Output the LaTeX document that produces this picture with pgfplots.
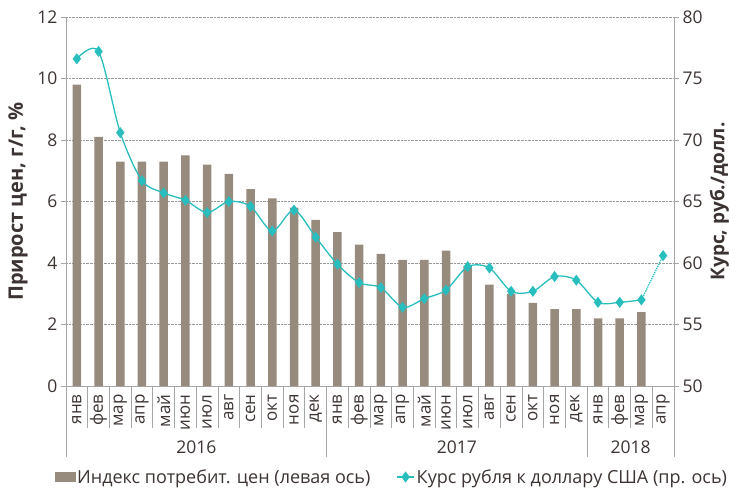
\documentclass[border=0pt]{standalone}
\usepackage{pgfplots}
\pgfplotsset{compat=1.18}
\usepackage{fontspec}
\setmainfont{Open Sans}
\definecolor{barc}{RGB}{151,139,126}
\definecolor{linec}{RGB}{40,190,190}
\definecolor{txt}{RGB}{60,52,50}
\definecolor{axc}{RGB}{166,166,166}
\begin{document}
\begin{tikzpicture}[font=\fontsize{17bp}{20bp}\selectfont, text=txt]
\pgfplotsset{
  common/.style={
    scale only axis, width=608bp, height=369bp,
    xmin=-0.5, xmax=27.5,
    /pgf/number format/assume math mode=true,
    tick align=outside, major tick length=5bp,
    axis line style={-, axc, line width=0.8pt},
    tick style={axc, line width=0.8pt},
    ticklabel style={font=\fontsize{17.5bp}{20bp}\selectfont, text=txt},
    label style={font=\bfseries\fontsize{20bp}{23bp}\selectfont, text=txt, inner sep=0pt},
    clip=false,
  }
}
\begin{axis}[common,
  ymin=0, ymax=12, ytick={0,2,...,12},
  axis y line*=left, axis x line*=bottom,
  ymajorgrids, grid style={densely dotted, gray!80, line width=0.7pt},
  xtick={0,...,27},
  xticklabels={янв,фев,мар,апр,май,июн,июл,авг,сен,окт,ноя,дек,янв,фев,мар,апр,май,июн,июл,авг,сен,окт,ноя,дек,янв,фев,мар,апр},
  xticklabel style={rotate=90, anchor=east, font=\fontsize{17bp}{20bp}\selectfont},
  x tick style={draw=none},
  ylabel={Прирост цен, г/г, \%},
  ylabel style={at={(axis description cs:-0.079,0.5)}, anchor=center},
]
\addplot[ybar, bar width=8.5bp, fill=barc, draw=none] coordinates {
(0,9.8)(1,8.1)(2,7.3)(3,7.3)(4,7.3)(5,7.5)(6,7.2)(7,6.9)(8,6.4)(9,6.1)(10,5.8)(11,5.4)
(12,5.0)(13,4.6)(14,4.3)(15,4.1)(16,4.1)(17,4.4)(18,3.9)(19,3.3)(20,3.0)(21,2.7)(22,2.5)(23,2.5)
(24,2.2)(25,2.2)(26,2.4)};
\pgfplotsinvokeforeach{-0.5,0.5,1.5,2.5,3.5,4.5,5.5,6.5,7.5,8.5,9.5,10.5,12.5,13.5,14.5,15.5,16.5,17.5,18.5,19.5,20.5,21.5,22.5,24.5,25.5,26.5}{
  \draw[axc, line width=0.8pt] (axis cs:#1,0) -- ([yshift=-42bp]axis cs:#1,0);}
\pgfplotsinvokeforeach{-0.5,11.5,23.5,27.5}{
  \draw[axc, line width=0.8pt] (axis cs:#1,0) -- ([yshift=-71bp]axis cs:#1,0);}
\node[anchor=center, font=\fontsize{17.5bp}{20bp}\selectfont] at ([yshift=-61bp]axis cs:5.5,0) {2016};
\node[anchor=center, font=\fontsize{17.5bp}{20bp}\selectfont] at ([yshift=-61bp]axis cs:17.5,0) {2017};
\node[anchor=center, font=\fontsize{17.5bp}{20bp}\selectfont] at ([yshift=-61bp]axis cs:25.5,0) {2018};
\end{axis}
\begin{axis}[common,
  ymin=50, ymax=80, ytick={50,55,...,80},
  axis y line*=right, axis x line=none,
  ylabel={Курс, руб./долл.},
  ylabel style={at={(axis description cs:1.0745,0.5)}, anchor=center, rotate=0, font=\bfseries\fontsize{19bp}{22bp}\selectfont},
  legend columns=2,
  legend style={at={(axis description cs:0.536,0)}, anchor=center, yshift=-91bp,
    draw=none, fill=none, font=\fontsize{18bp}{21bp}\selectfont, text=txt,
    /tikz/every even column/.append style={column sep=24bp},
    inner sep=0pt, legend cell align=left},
]
\addlegendimage{legend image code/.code={\fill[barc] (0bp,-4.5bp) rectangle (20bp,4.5bp);}}
\addlegendentry{Индекс потребит. цен (левая ось)}
\addplot[linec, line width=1.3pt, smooth, mark=diamond*, mark size=4.5bp, mark options={solid, fill=linec}] coordinates {
(0,76.6)(1,77.2)(2,70.6)(3,66.7)(4,65.7)(5,65.1)(6,64.1)(7,65.0)(8,64.6)(9,62.6)(10,64.3)(11,62.1)
(12,59.9)(13,58.4)(14,58.0)(15,56.4)(16,57.1)(17,57.8)(18,59.7)(19,59.6)(20,57.7)(21,57.7)(22,58.9)(23,58.6)
(24,56.8)(25,56.8)(26,57.0)};
\addlegendentry{Курс рубля к доллару США (пр. ось)}
\addplot[linec, line width=1.3pt, densely dotted, mark=diamond*, mark size=4.5bp, mark indices={2}, mark options={solid, fill=linec}, forget plot] coordinates {(26,57.0)(27,60.6)};
\end{axis}
\pgfresetboundingbox
\path[use as bounding box] (-66bp,-102bp) rectangle (664bp,386bp);
\end{tikzpicture}
\end{document}
